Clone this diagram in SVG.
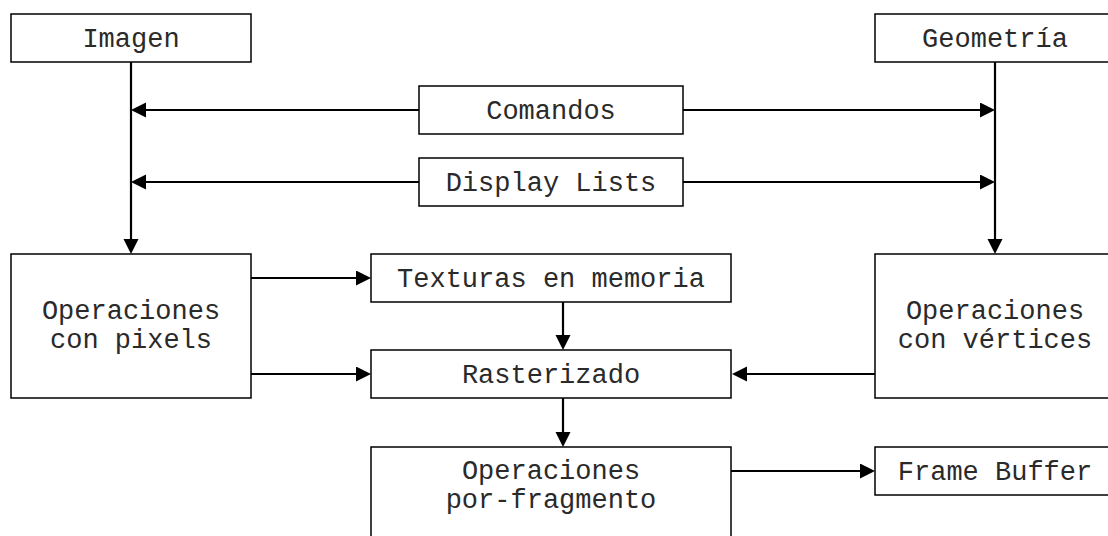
<svg xmlns="http://www.w3.org/2000/svg" width="1108" height="536" viewBox="0 0 1108 536">
<defs>
<style>
.box{fill:#fff;stroke:#000;stroke-width:1.5}
.t{font-family:"Liberation Mono","Courier New",monospace;font-size:27px;fill:#2a2a2a;text-anchor:middle}
.c{stroke:#000;stroke-width:2.2;fill:none;marker-end:url(#ah)}
</style>
<marker id="ah" markerUnits="userSpaceOnUse" markerWidth="18" markerHeight="16" refX="11" refY="7.5" orient="auto">
<path d="M0,0 L15,7.5 L0,15 z" fill="#000"/>
</marker>
</defs>
<rect width="1108" height="536" fill="#fff"/>
<g id="connectors">
<path class="c" d="M131,62 V250"/>
<path class="c" d="M995,62 V250"/>
<path class="c" d="M419,110 H135"/>
<path class="c" d="M683,110 H991"/>
<path class="c" d="M419,182 H135"/>
<path class="c" d="M683,182 H991"/>
<path class="c" d="M251,278 H367"/>
<path class="c" d="M251,374 H367"/>
<path class="c" d="M563,302 V346"/>
<path class="c" d="M875,374 H736"/>
<path class="c" d="M563,398 V443"/>
<path class="c" d="M731,471 H871"/>
</g>
<g id="imagen"><rect class="box" x="11" y="14" width="240" height="48"/><text class="t" x="131" y="47">Imagen</text></g>
<g id="geometria"><rect class="box" x="875" y="14" width="240" height="48"/><text class="t" x="995" y="47">Geometría</text></g>
<g id="comandos"><rect class="box" x="419" y="86" width="264" height="48"/><text class="t" x="551" y="119">Comandos</text></g>
<g id="display-lists"><rect class="box" x="419" y="158" width="264" height="48"/><text class="t" x="551" y="191">Display Lists</text></g>
<g id="op-pixels"><rect class="box" x="11" y="254" width="240" height="144"/><text class="t" x="131" y="319">Operaciones</text><text class="t" x="131" y="348">con pixels</text></g>
<g id="texturas"><rect class="box" x="371" y="254" width="360" height="48"/><text class="t" x="551" y="287">Texturas en memoria</text></g>
<g id="rasterizado"><rect class="box" x="371" y="350" width="360" height="48"/><text class="t" x="551" y="383">Rasterizado</text></g>
<g id="op-vertices"><rect class="box" x="875" y="254" width="240" height="144"/><text class="t" x="995" y="319">Operaciones</text><text class="t" x="995" y="348">con vértices</text></g>
<g id="op-fragmento"><rect class="box" x="371" y="447" width="360" height="100"/><text class="t" x="551" y="479">Operaciones</text><text class="t" x="551" y="508">por-fragmento</text></g>
<g id="frame-buffer"><rect class="box" x="875" y="447" width="240" height="48"/><text class="t" x="995" y="480">Frame Buffer</text></g>
</svg>
